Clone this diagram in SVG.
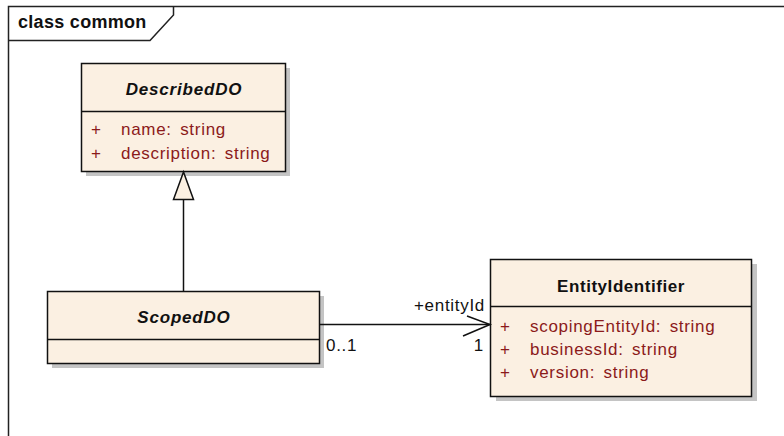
<svg xmlns="http://www.w3.org/2000/svg" width="784" height="436" viewBox="0 0 784 436">
<defs>
<style>
.frame{fill:none;stroke:#222;stroke-width:1.5}
.box{fill:#FBF0E2;stroke:#111;stroke-width:1.5}
.shadow{fill:#C4C4C4}
.line{fill:none;stroke:#111;stroke-width:1.5}
.title{font-family:"Liberation Sans",Arial,sans-serif;font-size:17px;font-weight:bold;font-style:italic;fill:#111;text-anchor:middle;letter-spacing:0.8px}
.titleN{font-family:"Liberation Sans",Arial,sans-serif;font-size:17px;font-weight:bold;fill:#111;text-anchor:middle;letter-spacing:0.55px}
.attr{font-family:"Liberation Sans",Arial,sans-serif;font-size:17px;fill:#8B1A1A;letter-spacing:0.7px;word-spacing:3px}
.lbl{font-family:"Liberation Sans",Arial,sans-serif;font-size:17px;fill:#111;letter-spacing:0.7px}
</style>
</defs>
<rect width="784" height="436" fill="#fff"/>
<g id="frame">
<path class="frame" d="M8.5,436 V6.5 H784"/>
<path class="frame" d="M8.5,40.5 H150 L173.5,15 V6.5"/>
<text x="18" y="28" font-family="'Liberation Sans',Arial,sans-serif" font-size="18" font-weight="bold" letter-spacing="0.3" fill="#111">class common</text>
</g>
<g id="DescribedDO">
<rect class="shadow" x="86" y="68" width="204" height="108"/>
<rect class="box" x="81.5" y="63.5" width="204" height="108"/>
<line class="line" x1="81.5" y1="111.5" x2="285.5" y2="111.5"/>
<text class="title" x="184" y="95">DescribedDO</text>
<text class="attr" x="91" y="135">+</text>
<text class="attr" x="121" y="135">name: string</text>
<text class="attr" x="91" y="159">+</text>
<text class="attr" x="121" y="159">description: string</text>
</g>
<g id="ScopedDO">
<rect class="shadow" x="52" y="296" width="272" height="72"/>
<rect class="box" x="47.5" y="291.5" width="272" height="72"/>
<line class="line" x1="47.5" y1="339.5" x2="319.5" y2="339.5"/>
<text class="title" x="184" y="323">ScopedDO</text>
</g>
<g id="EntityIdentifier">
<rect class="shadow" x="496" y="264" width="261" height="137"/>
<rect class="box" x="490.5" y="259.5" width="261" height="137"/>
<line class="line" x1="490.5" y1="306.5" x2="751.5" y2="306.5"/>
<text class="titleN" x="621" y="292">EntityIdentifier</text>
<text class="attr" x="500" y="332">+</text>
<text class="attr" x="530" y="332">scopingEntityId: string</text>
<text class="attr" x="500" y="355">+</text>
<text class="attr" x="530" y="355">businessId: string</text>
<text class="attr" x="500" y="378">+</text>
<text class="attr" x="530" y="378">version: string</text>
</g>
<g id="connectors">
<line class="line" x1="183.5" y1="291" x2="183.5" y2="199"/>
<polygon points="183.5,172 173.5,199.5 193.5,199.5" fill="#FBF0E2" stroke="#111" stroke-width="1.5"/>
<line class="line" x1="319.5" y1="324.5" x2="490" y2="324.5"/>
<polyline class="line" points="467,316 490,324.5 463,336"/>
<text class="lbl" x="485" y="311" text-anchor="end">+entityId</text>
<text class="lbl" x="326" y="351">0..1</text>
<text class="lbl" x="484" y="351" text-anchor="end">1</text>
</g>
</svg>
